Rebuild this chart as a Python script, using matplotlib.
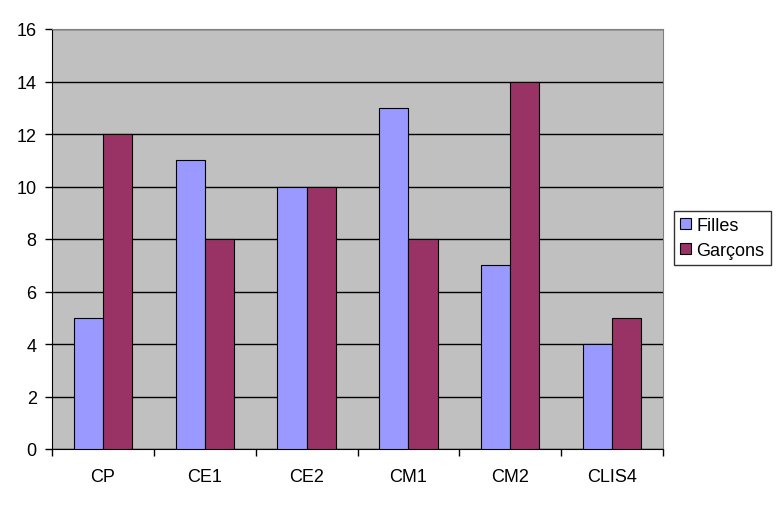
import numpy as np
import matplotlib.pyplot as plt
import matplotlib as mpl

mpl.rcParams['font.family'] = ['Liberation Sans', 'DejaVu Sans']
mpl.rcParams['font.size'] = 13

categories = ['CP', 'CE1', 'CE2', 'CM1', 'CM2', 'CLIS4']
filles = [5, 11, 10, 13, 7, 4]
garcons = [12, 8, 10, 8, 14, 5]

fig = plt.figure(figsize=(7.82, 5.06), dpi=100)
ax = fig.add_axes([52/782, 56/506, 611/782, 420/506])
ax.set_facecolor('#C0C0C0')

ind = np.arange(len(categories))
w = 1 / 3.5
ax.bar(ind - w/2, filles, w, color='#9999FF', edgecolor='black', linewidth=0.8, label='Filles', zorder=3)
ax.bar(ind + w/2, garcons, w, color='#993366', edgecolor='black', linewidth=0.8, label='Garçons', zorder=3)

ax.set_xlim(-0.5, len(categories) - 0.5)
ax.set_ylim(0, 16)
ax.set_yticks(range(0, 17, 2))
ax.yaxis.grid(True, color='black', linewidth=1, zorder=1)
ax.set_axisbelow(True)

ax.set_xticks(ind)
ax.set_xticklabels(categories)
ax.tick_params(axis='x', length=0, pad=14)
ax.set_xticks(np.arange(-0.5, len(categories)), minor=True)
ax.tick_params(axis='x', which='minor', length=5, direction='out', width=1)
ax.tick_params(axis='y', length=5, direction='out', width=1, pad=6)

for s in ['top', 'right']:
    ax.spines[s].set_color('#808080')
for s in ['left', 'bottom']:
    ax.spines[s].set_color('black')

leg = ax.legend(loc='center left', bbox_to_anchor=(674/782, 1 - 239/506), bbox_transform=fig.transFigure,
                borderaxespad=0, frameon=True, fancybox=False, handlelength=0.6, handleheight=0.6,
                handletextpad=0.3, borderpad=0.35, labelspacing=0.45, fontsize=13)
leg.get_frame().set_edgecolor('black')
leg.get_frame().set_linewidth(1)
for h in leg.legend_handles:
    h.set_linewidth(0.8)

plt.savefig('out.png', dpi=100)
